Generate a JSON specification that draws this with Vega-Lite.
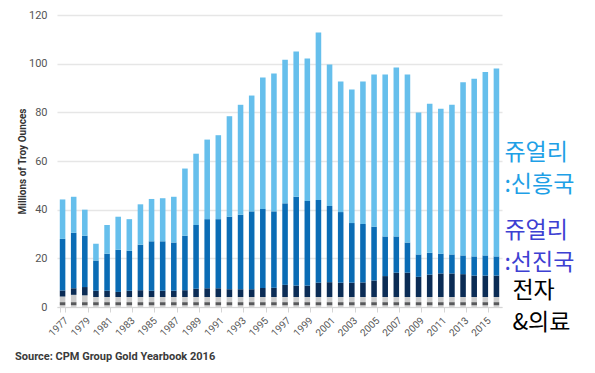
{
  "$schema": "https://vega.github.io/schema/vega-lite/v6.json",
  "width": 445,
  "height": 292,
  "autosize": {"type": "none"},
  "padding": {"left": 57, "top": 15, "right": 93, "bottom": 66},
  "background": "white",
  "config": {"view": {"stroke": null}, "font": "Roboto"},
  "title": {
    "text": "Source: CPM Group Gold Yearbook 2016",
    "orient": "bottom",
    "anchor": "start",
    "frame": "group",
    "dx": -42,
    "offset": 13,
    "font": "Roboto",
    "fontSize": 11,
    "fontWeight": "bold",
    "color": "#3a3a3a"
  },
  "datasets": {
    "demand": [
      {"year": "1977", "a_misc": 0.7, "b_dental": 1.3, "c_other_industrial": 2.3, "d_electronics": 2.5, "e_jewelry_developed": 21.2, "f_jewelry_emerging": 16.2},
      {"year": "1978", "a_misc": 0.7, "b_dental": 1.3, "c_other_industrial": 3.0, "d_electronics": 2.7, "e_jewelry_developed": 22.8, "f_jewelry_emerging": 14.8},
      {"year": "1979", "a_misc": 0.7, "b_dental": 1.3, "c_other_industrial": 2.8, "d_electronics": 3.4, "e_jewelry_developed": 21.1, "f_jewelry_emerging": 10.7},
      {"year": "1980", "a_misc": 0.7, "b_dental": 1.3, "c_other_industrial": 2.1, "d_electronics": 2.6, "e_jewelry_developed": 12.4, "f_jewelry_emerging": 6.9},
      {"year": "1981", "a_misc": 0.7, "b_dental": 1.3, "c_other_industrial": 2.1, "d_electronics": 2.6, "e_jewelry_developed": 15.2, "f_jewelry_emerging": 11.8},
      {"year": "1982", "a_misc": 0.7, "b_dental": 1.3, "c_other_industrial": 2.1, "d_electronics": 2.1, "e_jewelry_developed": 17.3, "f_jewelry_emerging": 13.6},
      {"year": "1983", "a_misc": 0.7, "b_dental": 1.3, "c_other_industrial": 2.1, "d_electronics": 2.6, "e_jewelry_developed": 16.4, "f_jewelry_emerging": 13.0},
      {"year": "1984", "a_misc": 0.7, "b_dental": 1.3, "c_other_industrial": 2.1, "d_electronics": 2.8, "e_jewelry_developed": 18.7, "f_jewelry_emerging": 16.6},
      {"year": "1985", "a_misc": 0.7, "b_dental": 1.3, "c_other_industrial": 2.1, "d_electronics": 2.6, "e_jewelry_developed": 20.3, "f_jewelry_emerging": 17.4},
      {"year": "1986", "a_misc": 0.7, "b_dental": 1.3, "c_other_industrial": 2.1, "d_electronics": 2.6, "e_jewelry_developed": 20.3, "f_jewelry_emerging": 17.7},
      {"year": "1987", "a_misc": 0.7, "b_dental": 1.3, "c_other_industrial": 2.1, "d_electronics": 2.6, "e_jewelry_developed": 19.8, "f_jewelry_emerging": 18.8},
      {"year": "1988", "a_misc": 0.7, "b_dental": 1.3, "c_other_industrial": 2.1, "d_electronics": 2.8, "e_jewelry_developed": 22.4, "f_jewelry_emerging": 27.6},
      {"year": "1989", "a_misc": 0.7, "b_dental": 1.3, "c_other_industrial": 2.1, "d_electronics": 3.4, "e_jewelry_developed": 26.2, "f_jewelry_emerging": 29.3},
      {"year": "1990", "a_misc": 0.7, "b_dental": 1.3, "c_other_industrial": 2.1, "d_electronics": 3.6, "e_jewelry_developed": 28.4, "f_jewelry_emerging": 32.7},
      {"year": "1991", "a_misc": 0.7, "b_dental": 1.3, "c_other_industrial": 2.1, "d_electronics": 3.6, "e_jewelry_developed": 28.4, "f_jewelry_emerging": 34.5},
      {"year": "1992", "a_misc": 0.7, "b_dental": 1.3, "c_other_industrial": 2.1, "d_electronics": 3.2, "e_jewelry_developed": 29.8, "f_jewelry_emerging": 41.3},
      {"year": "1993", "a_misc": 0.7, "b_dental": 1.3, "c_other_industrial": 2.1, "d_electronics": 3.2, "e_jewelry_developed": 30.6, "f_jewelry_emerging": 45.2},
      {"year": "1994", "a_misc": 0.7, "b_dental": 1.3, "c_other_industrial": 2.1, "d_electronics": 3.2, "e_jewelry_developed": 32.0, "f_jewelry_emerging": 47.6},
      {"year": "1995", "a_misc": 0.7, "b_dental": 1.3, "c_other_industrial": 2.1, "d_electronics": 3.7, "e_jewelry_developed": 32.5, "f_jewelry_emerging": 54.0},
      {"year": "1996", "a_misc": 0.7, "b_dental": 1.3, "c_other_industrial": 2.1, "d_electronics": 3.8, "e_jewelry_developed": 31.4, "f_jewelry_emerging": 56.7},
      {"year": "1997", "a_misc": 0.7, "b_dental": 1.3, "c_other_industrial": 2.1, "d_electronics": 5.0, "e_jewelry_developed": 33.5, "f_jewelry_emerging": 59.0},
      {"year": "1998", "a_misc": 0.7, "b_dental": 1.3, "c_other_industrial": 2.1, "d_electronics": 4.7, "e_jewelry_developed": 36.5, "f_jewelry_emerging": 59.7},
      {"year": "1999", "a_misc": 0.7, "b_dental": 1.3, "c_other_industrial": 2.1, "d_electronics": 4.7, "e_jewelry_developed": 34.8, "f_jewelry_emerging": 58.5},
      {"year": "2000", "a_misc": 0.7, "b_dental": 1.3, "c_other_industrial": 2.1, "d_electronics": 5.9, "e_jewelry_developed": 34.0, "f_jewelry_emerging": 68.8},
      {"year": "2001", "a_misc": 0.7, "b_dental": 1.3, "c_other_industrial": 2.1, "d_electronics": 6.1, "e_jewelry_developed": 31.3, "f_jewelry_emerging": 58.2},
      {"year": "2002", "a_misc": 0.7, "b_dental": 1.3, "c_other_industrial": 2.1, "d_electronics": 5.9, "e_jewelry_developed": 29.0, "f_jewelry_emerging": 53.7},
      {"year": "2003", "a_misc": 0.7, "b_dental": 1.3, "c_other_industrial": 2.1, "d_electronics": 5.9, "e_jewelry_developed": 24.5, "f_jewelry_emerging": 54.9},
      {"year": "2004", "a_misc": 0.7, "b_dental": 1.3, "c_other_industrial": 2.1, "d_electronics": 6.0, "e_jewelry_developed": 24.0, "f_jewelry_emerging": 58.6},
      {"year": "2005", "a_misc": 0.7, "b_dental": 1.3, "c_other_industrial": 2.1, "d_electronics": 6.8, "e_jewelry_developed": 22.1, "f_jewelry_emerging": 62.5},
      {"year": "2006", "a_misc": 0.7, "b_dental": 1.3, "c_other_industrial": 2.1, "d_electronics": 8.6, "e_jewelry_developed": 16.3, "f_jewelry_emerging": 66.5},
      {"year": "2007", "a_misc": 0.7, "b_dental": 1.3, "c_other_industrial": 2.1, "d_electronics": 10.0, "e_jewelry_developed": 14.9, "f_jewelry_emerging": 69.4},
      {"year": "2008", "a_misc": 0.7, "b_dental": 1.3, "c_other_industrial": 2.1, "d_electronics": 10.0, "e_jewelry_developed": 12.4, "f_jewelry_emerging": 69.0},
      {"year": "2009", "a_misc": 0.7, "b_dental": 1.3, "c_other_industrial": 2.1, "d_electronics": 8.3, "e_jewelry_developed": 9.2, "f_jewelry_emerging": 58.3},
      {"year": "2010", "a_misc": 0.7, "b_dental": 1.3, "c_other_industrial": 2.1, "d_electronics": 9.2, "e_jewelry_developed": 9.0, "f_jewelry_emerging": 61.2},
      {"year": "2011", "a_misc": 0.7, "b_dental": 1.3, "c_other_industrial": 2.1, "d_electronics": 9.7, "e_jewelry_developed": 8.1, "f_jewelry_emerging": 59.6},
      {"year": "2012", "a_misc": 0.7, "b_dental": 1.3, "c_other_industrial": 2.1, "d_electronics": 9.7, "e_jewelry_developed": 7.8, "f_jewelry_emerging": 61.5},
      {"year": "2013", "a_misc": 0.7, "b_dental": 1.3, "c_other_industrial": 2.1, "d_electronics": 9.4, "e_jewelry_developed": 7.7, "f_jewelry_emerging": 71.2},
      {"year": "2014", "a_misc": 0.7, "b_dental": 1.3, "c_other_industrial": 2.1, "d_electronics": 8.8, "e_jewelry_developed": 7.9, "f_jewelry_emerging": 73.0},
      {"year": "2015", "a_misc": 0.7, "b_dental": 1.3, "c_other_industrial": 2.1, "d_electronics": 8.8, "e_jewelry_developed": 8.3, "f_jewelry_emerging": 75.4},
      {"year": "2016", "a_misc": 0.7, "b_dental": 1.3, "c_other_industrial": 2.1, "d_electronics": 8.8, "e_jewelry_developed": 7.9, "f_jewelry_emerging": 77.2}
    ],
    "labels": [
      {"year": "2016", "value": 63.2, "label": "쥬얼리\n:신흥국", "series": "f_jewelry_emerging"},
      {"year": "2016", "value": 31.1, "label": "쥬얼리\n:선진국", "series": "e_jewelry_developed"},
      {"year": "2016", "value": 6.5, "label": "전자\n&의료", "series": "d_electronics"}
    ]
  },
  "layer": [
    {
      "data": {"name": "demand"},
      "transform": [
        {"fold": ["a_misc", "b_dental", "c_other_industrial", "d_electronics", "e_jewelry_developed", "f_jewelry_emerging"], "as": ["series", "ounces"]}
      ],
      "mark": {"type": "bar"},
      "encoding": {
        "x": {
          "field": "year",
          "type": "ordinal",
          "scale": {"paddingInner": 0.5, "paddingOuter": 0.25},
          "axis": {
            "title": null,
            "values": ["1977","1979","1981","1983","1985","1987","1989","1991","1993","1995","1997","1999","2001","2003","2005","2007","2009","2011","2013","2015"],
            "labelAngle": -45,
            "labelFontSize": 10,
            "labelColor": "#555555",
            "labelFont": "Roboto",
            "tickBand": "extent",
            "tickColor": "#d5d5d5",
            "tickSize": 5,
            "domainColor": "#d5d5d5",
            "labelPadding": 3
          }
        },
        "y": {
          "field": "ounces",
          "type": "quantitative",
          "stack": "zero",
          "scale": {"domain": [0, 120]},
          "axis": {
            "title": "Millions of Troy Ounces",
            "titleFont": "Roboto",
            "titleFontSize": 10,
            "titleFontWeight": "bold",
            "titleColor": "#333333",
            "titlePadding": 1,
            "values": [0, 20, 40, 60, 80, 100, 120],
            "labelFontSize": 11,
            "labelColor": "#555555",
            "labelFont": "Roboto",
            "labelPadding": 10,
            "ticks": false,
            "domain": false,
            "gridColor": "#e6e6e6",
            "gridWidth": 1.5
          }
        },
        "color": {
          "field": "series",
          "type": "nominal",
          "legend": null,
          "scale": {
            "domain": ["a_misc", "b_dental", "c_other_industrial", "d_electronics", "e_jewelry_developed", "f_jewelry_emerging"],
            "range": ["#d4d4d4", "#58595b", "#cbcbcb", "#0b2c55", "#0a6cb5", "#66bfec"]
          }
        },
        "order": {"field": "series", "sort": "ascending"}
      }
    },
    {
      "data": {"name": "labels"},
      "transform": [{"filter": "datum.series !== 'd_electronics'"}],
      "mark": {
        "type": "text",
        "align": "left",
        "baseline": "middle",
        "dx": 8,
        "lineBreak": "\n",
        "lineHeight": 32,
        "fontSize": 23,
        "font": "Noto Sans CJK KR"
      },
      "encoding": {
        "x": {"field": "year", "type": "ordinal"},
        "y": {"field": "value", "type": "quantitative"},
        "text": {"field": "label"},
        "color": {
          "field": "series",
          "type": "nominal",
          "legend": null,
          "scale": {
            "domain": ["f_jewelry_emerging", "e_jewelry_developed"],
            "range": ["#1ea0e6", "#3d40d2"]
          }
        }
      }
    },
    {
      "data": {"name": "labels"},
      "transform": [{"filter": "datum.series === 'd_electronics'"}],
      "mark": {
        "type": "text",
        "align": "left",
        "baseline": "middle",
        "dx": 16,
        "lineBreak": "\n",
        "lineHeight": 32,
        "fontSize": 23,
        "font": "Noto Sans CJK KR",
        "color": "#000000"
      },
      "encoding": {
        "x": {"field": "year", "type": "ordinal"},
        "y": {"field": "value", "type": "quantitative"},
        "text": {"field": "label"}
      }
    }
  ],
  "resolve": {"scale": {"color": "independent"}}
}
